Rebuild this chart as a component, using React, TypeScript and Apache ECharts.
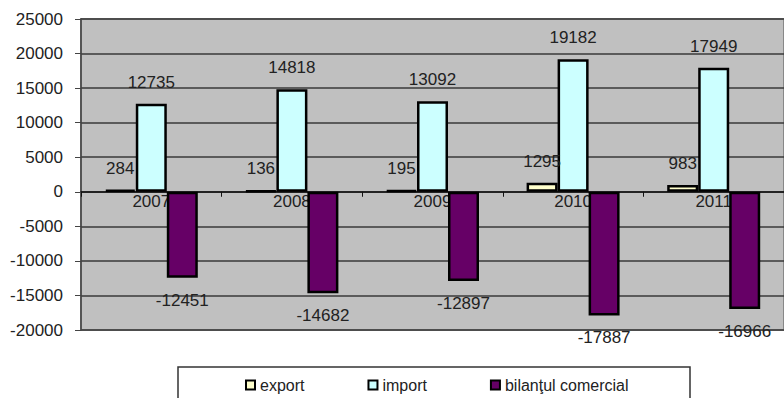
import React, { useEffect, useRef } from "react";
import * as echarts from "echarts";

const years = ["2007", "2008", "2009", "2010", "2011"];
const exportValues = [284, 136, 195, 1295, 983];
const importValues = [12735, 14818, 13092, 19182, 17949];
const balanceValues = [-12451, -14682, -12897, -17887, -16966];
const seriesNames = ["export", "import", "bilanţul comercial"];

const FONT = "'Liberation Sans', Arial, sans-serif";
const Y_MIN = -20000;
const Y_MAX = 25000;

export default function App() {
  const ref = useRef<HTMLDivElement>(null);
  useEffect(() => {
    if (!ref.current) return;
    const chart = echarts.init(ref.current, null, { renderer: "svg" });
    const gridTop = 19;
    const gridBottom = 68;
    const plotHeight = 398 - gridTop - gridBottom;
    const zeroOffset = -(plotHeight * (0 - Y_MIN)) / (Y_MAX - Y_MIN);
    const labelStyle = {
      show: true,
      fontSize: 17,
      fontFamily: FONT,
      color: "#222",
    };
    const common = {
      type: "bar" as const,
      barWidth: 31,
      barGap: "0%",
    };
    chart.setOption({
      animation: false,
      backgroundColor: "#ffffff",
      textStyle: { fontFamily: FONT },
      grid: {
        left: 81,
        right: -4,
        top: gridTop,
        bottom: gridBottom,
        show: true,
        backgroundColor: "#c0c0c0",
        borderColor: "#888888",
        borderWidth: 2,
        containLabel: false,
      },
      graphic: [
        {
          type: "rect",
          z: 0,
          shape: { x: 178, y: 367, width: 512, height: 40 },
          style: { fill: "#ffffff", stroke: "#333333", lineWidth: 1.5 },
        },
      ],
      legend: {
        left: 245,
        top: 377,
        padding: 0,
        itemGap: 63,
        itemWidth: 9,
        itemHeight: 9,
        icon: "rect",
        itemStyle: { borderColor: "#000", borderWidth: 2 },
        textStyle: { fontSize: 16, fontFamily: FONT, color: "#222" },
        data: seriesNames,
      },
      xAxis: {
        type: "category",
        data: years,
        offset: zeroOffset,
        axisLine: { onZero: false, lineStyle: { color: "#111", width: 1.5 } },
        axisTick: { show: true, length: 5, lineStyle: { color: "#111" } },
        axisLabel: {
          fontSize: 17,
          fontFamily: FONT,
          color: "#222",
          margin: 1,
        },
        splitLine: { show: false },
        z: 0,
      },
      yAxis: {
        type: "value",
        min: Y_MIN,
        max: Y_MAX,
        interval: 5000,
        axisLine: { show: true, lineStyle: { color: "#444", width: 1.5 } },
        axisTick: { show: true, length: 6, lineStyle: { color: "#444" } },
        axisLabel: {
          fontSize: 17,
          fontFamily: FONT,
          color: "#222",
          margin: 18,
          formatter: (v: number) => String(v),
        },
        splitLine: { show: true, lineStyle: { color: "#3a3a3a", width: 1.5 } },
      },
      series: [
        {
          ...common,
          name: seriesNames[0],
          data: exportValues,
          itemStyle: { color: "#ffffcc", borderColor: "#000", borderWidth: 2.5 },
          label: { ...labelStyle, position: "top", distance: 13 },
        },
        {
          ...common,
          name: seriesNames[1],
          data: importValues,
          itemStyle: { color: "#ccffff", borderColor: "#000", borderWidth: 2.5 },
          label: { ...labelStyle, position: "top", distance: 13 },
        },
        {
          ...common,
          name: seriesNames[2],
          data: balanceValues,
          itemStyle: { color: "#660066", borderColor: "#000", borderWidth: 2.5 },
          label: { ...labelStyle, position: "bottom", distance: 14 },
        },
      ],
    });
    return () => chart.dispose();
  }, []);
  return (
    <div
      ref={ref}
      style={{ position: "fixed", left: 0, top: 0, width: 784, height: 398 }}
    />
  );
}
